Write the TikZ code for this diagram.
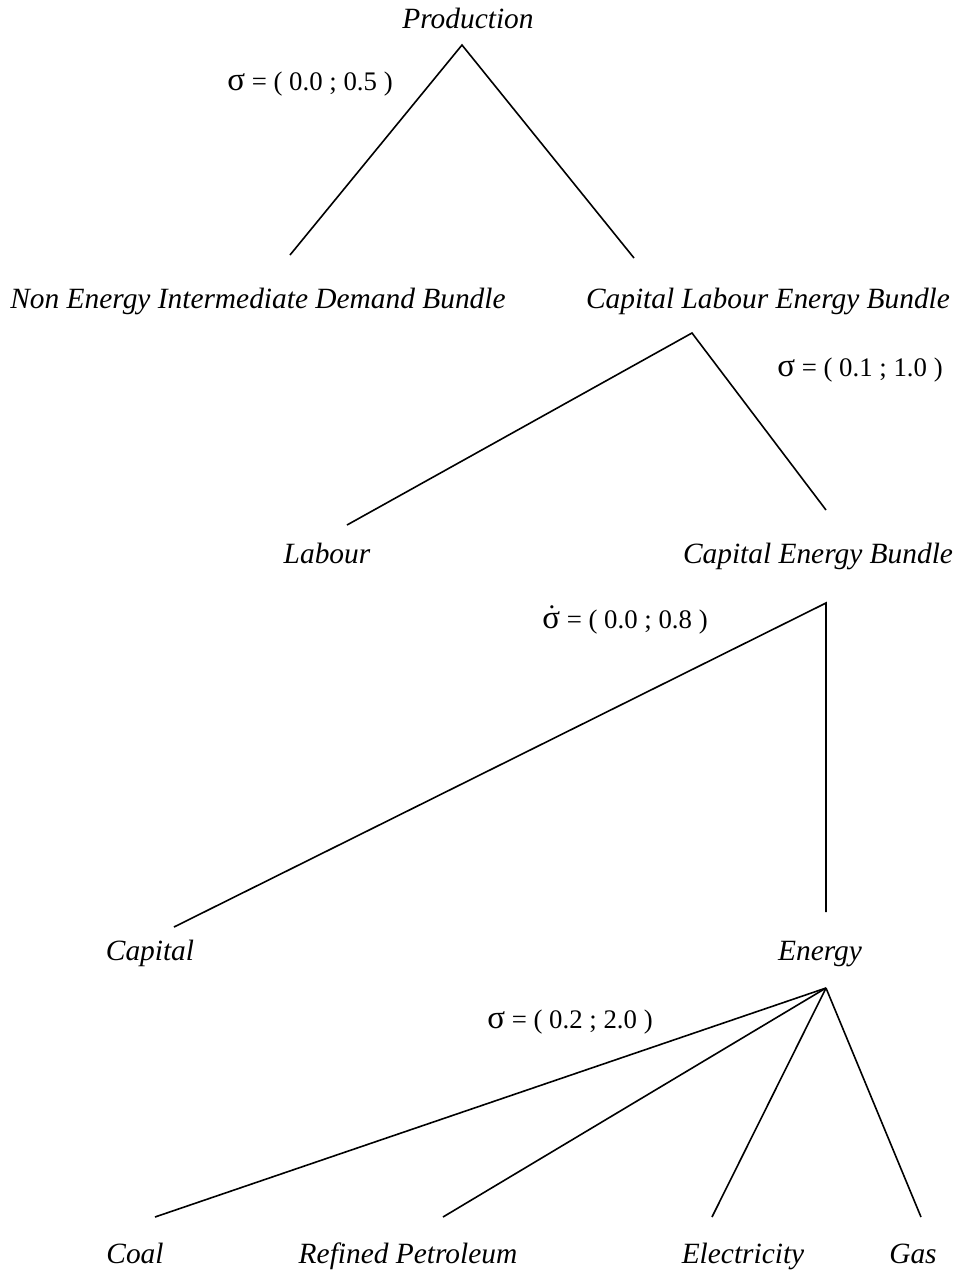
\documentclass[tikz,border=0pt]{standalone}
\usepackage{fontspec}
\setmainfont{Liberation Serif}
\usepackage{tikz}
\usetikzlibrary{positioning}

\newcommand{\sig}{{\fontsize{16.5}{16}\selectfont σ}}
\newcommand{\dotsig}{\makebox[0pt][l]{\hspace{0.24em}\raisebox{0.72em}{.}}\sig}

\tikzset{
  good/.style={anchor=base,font=\fontsize{14.7}{17}\selectfont\itshape},
  elast/.style={anchor=base,font=\fontsize{13.4}{16}\selectfont},
  nest/.style={line width=0.8pt}
}

\begin{document}
\begin{tikzpicture}[x=0.5pt,y=-0.5pt]
\useasboundingbox (0,0) rectangle (957,1271);
% top nest
\node[good] (prod) at (468,28) {Production};
\node[good] (ned) at (258,308) {Non Energy Intermediate Demand Bundle};
\node[good] (kle) at (768,308) {Capital Labour Energy Bundle};
\node[elast] (s1) at (310,90) {\sig{} = ( 0.0 ; 0.5 )};
\coordinate (prodtop) at (462,45);
\coordinate (nedend) at (290,255);
\coordinate (kleend) at (634,258);
\draw[nest] (nedend) -- (prodtop) -- (kleend);
% capital labour energy nest
\node[good] (lab) at (327,563) {Labour};
\node[good] (ke) at (818,563) {Capital Energy Bundle};
\node[elast] (s2) at (860,376) {\sig{} = ( 0.1 ; 1.0 )};
\coordinate (kletop) at (692,333);
\coordinate (labend) at (347,525);
\coordinate (keend) at (826,510);
\draw[nest] (labend) -- (kletop) -- (keend);
% capital energy nest
\node[good] (cap) at (150,960) {Capital};
\node[good] (en) at (820,960) {Energy};
\node[elast] (s3) at (625,628) {\dotsig{} = ( 0.0 ; 0.8 )};
\coordinate (ketop) at (826,603);
\coordinate (capend) at (174,927);
\coordinate (enend) at (826,912);
\draw[nest] (capend) -- (ketop) -- (enend);
% energy nest
\node[good] (coal) at (135,1263) {Coal};
\node[good] (oil) at (408,1263) {Refined Petroleum};
\node[good] (ele) at (743,1263) {Electricity};
\node[good] (gas) at (913,1263) {Gas};
\node[elast] (s4) at (570,1028) {\sig{} = ( 0.2 ; 2.0 )};
\coordinate (entop) at (826,988);
\coordinate (coalend) at (155,1217);
\coordinate (oilend) at (443,1217);
\coordinate (eleend) at (712,1217);
\coordinate (gasend) at (921,1217);
\foreach \e in {coalend,oilend,eleend,gasend}
  \draw[nest] (entop) -- (\e);
\end{tikzpicture}
\end{document}
